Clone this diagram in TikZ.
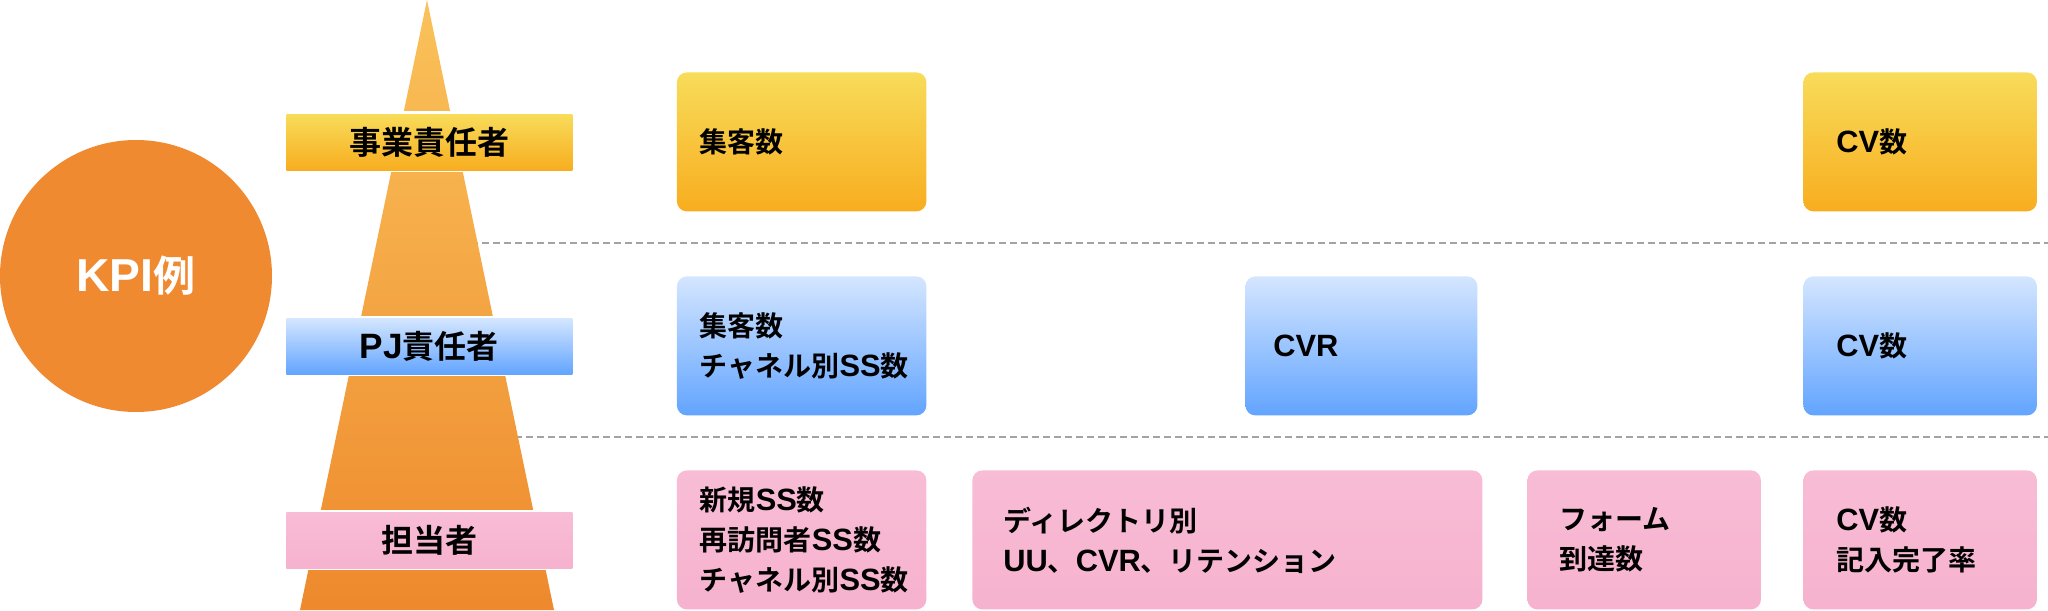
\documentclass[tikz,border=0pt]{standalone}
\usepackage{fontspec}
\newfontfamily\jp{Noto Sans CJK JP}[BoldFont={Noto Sans CJK JP Bold}]
\newfontfamily\latfont{Liberation Sans}[Scale=1.1]
\newcommand{\latn}[1]{{\latfont\bfseries #1}}
\definecolor{yellowtop}{HTML}{F8DC5A}
\definecolor{yellowbot}{HTML}{F8AD1F}
\definecolor{bluetop}{HTML}{D4E6FF}
\definecolor{bluebot}{HTML}{62A4FF}
\definecolor{pinktop}{HTML}{F8BCD5}
\definecolor{pinkbot}{HTML}{F6B2CE}
\definecolor{pyrtop}{HTML}{FAC25A}
\definecolor{pyrbot}{HTML}{EE892D}
\definecolor{kpiorange}{HTML}{EF8A31}
\definecolor{dashgray}{HTML}{A3A3A3}
\tikzset{
  yellowfill/.style={top color=yellowtop, bottom color=yellowbot},
  bluefill/.style={top color=bluetop, bottom color=bluebot},
  pinkfill/.style={top color=pinktop, bottom color=pinkbot},
  kbox/.style={rounded corners=5pt, minimum height=69.5pt, anchor=north west,
    align=left, inner ysep=0pt, font=\jp\bfseries\fontsize{14}{20}\selectfont},
  levelbar/.style={minimum width=143pt, minimum height=28pt, anchor=north west,
    inner sep=0pt, font=\jp\bfseries\fontsize{16}{18}\selectfont},
  dashline/.style={draw=dashgray, line width=1pt, dash pattern=on 3.5pt off 2pt},
  gapfill/.style={fill=white}
}
\begin{document}
\begin{tikzpicture}[x=0.5pt,y=-0.5pt]
\useasboundingbox (0,0) rectangle (2048,610);
% dashed separators
\coordinate (d1s) at (427,243);
\coordinate (d1e) at (2048,243);
\coordinate (d2s) at (427,437);
\coordinate (d2e) at (2048,437);
\draw[dashline] (d1s) -- (d1e);
\draw[dashline] (d2s) -- (d2e);
% pyramid
\shade[top color=pyrtop, bottom color=pyrbot] (427,0) -- (554,610) -- (300,610) -- cycle;
\fill[gapfill] (280,111.5) rectangle (580,172);
\fill[gapfill] (280,315.5) rectangle (580,376);
\fill[gapfill] (280,509.5) rectangle (580,570);
% level bars
\node[levelbar, yellowfill] (lv1) at (286,114) {事業責任者};
\node[levelbar, bluefill] (lv2) at (286,318) {\latn{PJ}責任者};
\node[levelbar, pinkfill] (lv3) at (286,512) {担当者};
% circle
\node[circle, fill=kpiorange, minimum size=136pt, inner sep=0pt, text=white,
  font=\jp\bfseries\fontsize{21}{24}\selectfont] (kpi) at (136,276) {\latn{KPI}例};
% row 1
\node[kbox, yellowfill, text width=101.75pt, inner xsep=11.5pt] (r1a) at (676.5,72) {集客数};
\node[kbox, yellowfill, text width=83.75pt, inner xsep=16.5pt] (r1d) at (1803,72) {\latn{CV}数};
% row 2
\node[kbox, bluefill, text width=101.75pt, inner xsep=11.5pt] (r2a) at (676.5,276) {集客数\\チャネル別\latn{SS}数};
\node[kbox, bluefill, text width=88pt, inner xsep=14pt] (r2b) at (1245,276) {\latn{CVR}};
\node[kbox, bluefill, text width=83.75pt, inner xsep=16.5pt] (r2d) at (1803,276) {\latn{CV}数};
% row 3
\node[kbox, pinkfill, text width=101.75pt, inner xsep=11.5pt] (r3a) at (676.5,470) {新規\latn{SS}数\\再訪問者\latn{SS}数\\チャネル別\latn{SS}数};
\node[kbox, pinkfill, text width=224pt, inner xsep=15.5pt] (r3b) at (972,470) {ディレクトリ別\\\latn{UU}、\latn{CVR}、リテンション};
\node[kbox, pinkfill, text width=84.75pt, inner xsep=16pt] (r3c) at (1527,470) {フォーム\\到達数};
\node[kbox, pinkfill, text width=83.75pt, inner xsep=16.5pt] (r3d) at (1803,470) {\latn{CV}数\\記入完了率};
\end{tikzpicture}
\end{document}
